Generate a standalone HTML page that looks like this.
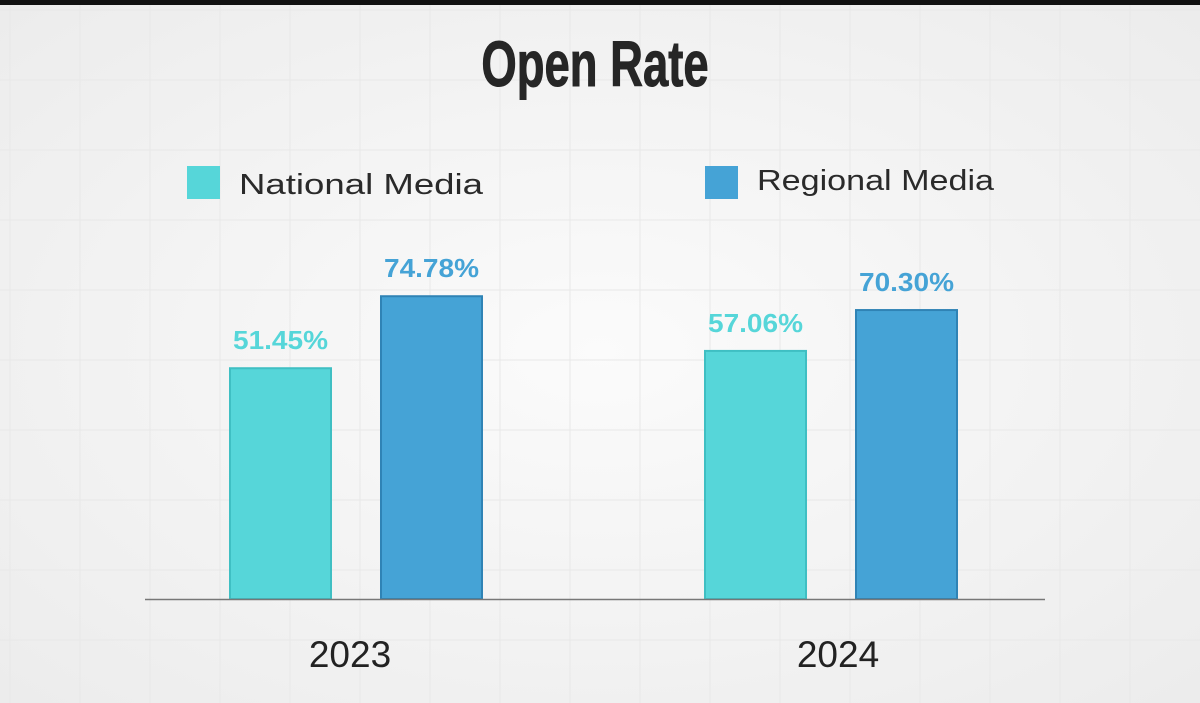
<!DOCTYPE html>
<html><head><meta charset="utf-8">
<style>
html,body{margin:0;padding:0;width:1200px;height:703px;overflow:hidden;background:#f3f3f3;}
svg{display:block;font-family:"Liberation Sans",sans-serif;}
</style></head>
<body>
<svg id="chart" width="1200" height="703">
<defs>
<radialGradient id="bg" cx="50%" cy="50%" r="70%">
<stop offset="0" stop-color="#fbfbfb"/><stop offset="1" stop-color="#ececec"/>
</radialGradient>
</defs>
<rect width="1200" height="703" fill="url(#bg)"/>
<g id="grid" stroke="#e8e8e8" stroke-width="1"></g>
<rect x="0" y="0" width="1200" height="5" fill="#111"/>
<text x="595" y="86" text-anchor="middle" font-family="'Liberation Sans Narrow','Liberation Sans',sans-serif" font-weight="bold" font-size="64" fill="#262626" stroke="#262626" stroke-width="1" transform="translate(595 0) scale(0.71 1) translate(-595 0)">Open Rate</text>
<g>
<rect x="187" y="166" width="33" height="33" fill="#56d6d9"/>
<text x="239" y="194" font-size="29" fill="#2a2a2a" textLength="244" lengthAdjust="spacingAndGlyphs">National Media</text>
<rect x="705" y="166" width="33" height="33" fill="#45a3d6"/>
<text x="757" y="190" font-size="29" fill="#2a2a2a" textLength="237" lengthAdjust="spacingAndGlyphs">Regional Media</text>
</g>
<g id="bars"></g>
<line x1="145" y1="599.5" x2="1045" y2="599.5" stroke="#777" stroke-width="1.5"/>
<g id="xlabels"></g>
</svg>
<script>
const categories = ["2023", "2024"];
const nationalValues = [51.45, 57.06];
const regionalValues = [74.78, 70.30];
const valueLabelsNational = ["51.45%", "57.06%"];
const valueLabelsRegional = ["74.78%", "70.30%"];

const NS = "http://www.w3.org/2000/svg";
const baseY = 599;
function yScale(v){ return baseY - (72 + v * 3.086); }
function xCenter(i){ return 356 + i * 475; }
const grid = document.getElementById('grid');
for (let x = 10; x < 1200; x += 70) {
  const l = document.createElementNS(NS, 'line');
  l.setAttribute('x1', x); l.setAttribute('x2', x); l.setAttribute('y1', 5); l.setAttribute('y2', 703);
  
  
  grid.appendChild(l);
}
for (let y = 10; y < 703; y += 70) {
  const l = document.createElementNS(NS, 'line');
  l.setAttribute('x1', 0); l.setAttribute('x2', 1200); l.setAttribute('y1', y); l.setAttribute('y2', y);
  
  
  grid.appendChild(l);
}
const bars = document.getElementById('bars');
function addBar(x, v, fill, edge, label, name){
  const top = yScale(v);
  const r = document.createElementNS(NS, 'rect');
  r.setAttribute('x', x); r.setAttribute('y', top); r.setAttribute('width', 101); r.setAttribute('height', baseY - top);
  r.setAttribute('fill', fill); r.setAttribute('stroke', edge); r.setAttribute('stroke-width', 2);
  
  
  bars.appendChild(r);
  const t = document.createElementNS(NS, 'text');
  t.setAttribute('x', x + 50.5); t.setAttribute('y', top - 19);
  t.setAttribute('text-anchor', 'middle'); t.setAttribute('font-size', 26); t.setAttribute('font-weight', 'bold');
  t.setAttribute('fill', fill);
  t.setAttribute('textLength', 95); t.setAttribute('lengthAdjust', 'spacingAndGlyphs');
  t.textContent = label;
  
  
  bars.appendChild(t);
}
const xl = document.getElementById('xlabels');
categories.forEach((c, i) => {
  const cx = xCenter(i);
  addBar(cx - 126, nationalValues[i], '#56d6d9', '#3fbfc3', valueLabelsNational[i], 'bar-national-' + c);
  addBar(cx + 25, regionalValues[i], '#45a3d6', '#2f83b5', valueLabelsRegional[i], 'bar-regional-' + c);
  const t = document.createElementNS(NS, 'text');
  t.setAttribute('x', cx - 6 + i * 13); t.setAttribute('y', 667);
  t.setAttribute('text-anchor', 'middle'); t.setAttribute('font-size', 37); t.setAttribute('fill', '#222');
  t.textContent = c;
  
  
  xl.appendChild(t);
});
</script>
</body></html>
